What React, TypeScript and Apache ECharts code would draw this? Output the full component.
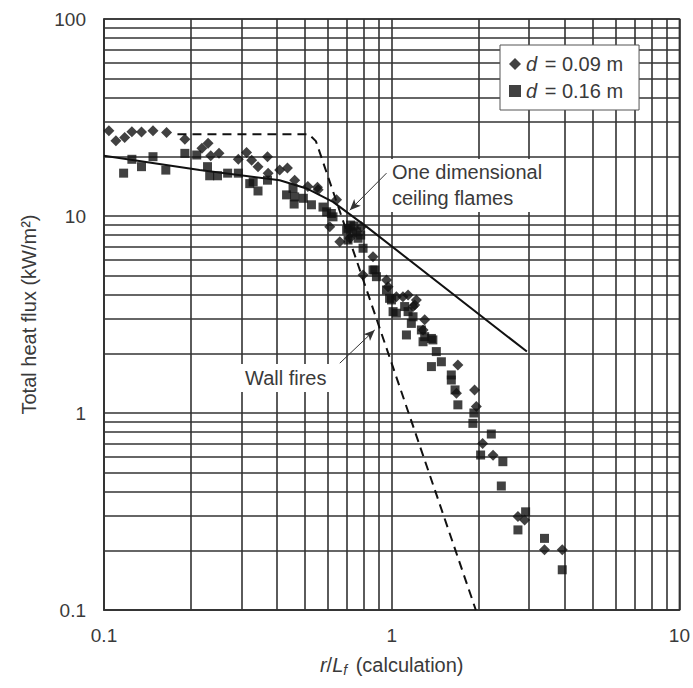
import React, { useEffect, useRef } from 'react';
import * as echarts from 'echarts';

const FONT = '"Liberation Sans", Arial, Helvetica, sans-serif';
const TEXT = '#3a3a3a';
const GRIDC = '#333333';

// minor grid positions on the log axes
const xMinorGrid = [0.2, 0.3, 0.4, 0.5, 0.6, 0.7, 0.8, 0.9, 2, 3, 4, 5, 6, 7, 8, 9];
const yMinorGrid = [0.2, 0.3, 0.4, 0.5, 0.6, 0.7, 0.8, 0.9, 2, 3, 4, 5, 6, 7, 8, 9, 20, 30, 40, 50, 60, 70, 80, 90];

// d = 0.09 m (diamonds)
const d009: number[][] = [
  [0.104, 27.1], [0.110, 24.1], [0.118, 25.0], [0.125, 26.8], [0.135, 26.7], [0.148, 27.1], [0.165, 26.5],
  [0.191, 24.5], [0.219, 22.1], [0.230, 23.4], [0.235, 20.2], [0.251, 20.8], [0.293, 19.4], [0.313, 21.0],
  [0.326, 19.2], [0.343, 17.8], [0.370, 20.0], [0.372, 16.5], [0.408, 17.1], [0.434, 17.5], [0.460, 15.2],
  [0.511, 14.1], [0.552, 14.0], [0.555, 13.6], [0.643, 12.1], [0.609, 8.83], [0.660, 7.41], [0.715, 7.71],
  [0.785, 8.83], [0.795, 5.02], [0.861, 6.21], [0.959, 4.73], [0.971, 4.38], [1.038, 3.89], [1.094, 3.89],
  [1.140, 3.97], [1.186, 3.47], [1.202, 3.53], [1.218, 3.75], [1.285, 2.64], [1.302, 2.97], [1.698, 1.75],
  [1.679, 1.26], [1.941, 1.31], [1.968, 1.08], [2.07, 0.70], [2.25, 0.61], [2.746, 0.298], [2.897, 0.286],
  [3.396, 0.202], [3.915, 0.202],
];

// d = 0.16 m (squares)
const d016: number[][] = [
  [0.117, 16.5], [0.125, 19.4], [0.135, 17.8], [0.148, 20.0], [0.164, 17.1], [0.191, 20.8], [0.210, 20.4],
  [0.229, 17.8], [0.233, 16.0], [0.248, 16.0], [0.269, 16.5], [0.293, 16.5], [0.321, 14.6], [0.330, 14.9],
  [0.343, 13.4], [0.370, 15.2], [0.431, 12.8], [0.454, 13.8], [0.458, 11.5], [0.460, 12.5], [0.493, 12.3],
  [0.526, 11.4], [0.577, 11.1], [0.594, 10.5], [0.617, 10.3], [0.625, 9.9], [0.697, 8.49], [0.705, 8.66],
  [0.705, 7.55], [0.72, 9.0], [0.73, 8.2], [0.74, 8.9], [0.754, 8.32], [0.764, 7.71], [0.78, 8.0],
  [0.795, 6.86], [0.861, 5.32], [0.873, 5.32], [0.885, 4.92], [0.959, 4.21], [0.983, 3.82], [0.998, 3.75],
  [1.011, 3.27], [1.038, 3.21], [1.109, 3.47], [1.125, 2.49], [1.140, 3.27], [1.170, 2.85], [1.186, 3.08],
  [1.268, 2.64], [1.285, 2.30], [1.302, 2.44], [1.374, 2.39], [1.390, 2.35], [1.429, 2.05], [1.374, 1.72],
  [1.488, 1.82], [1.611, 1.56], [1.611, 1.47], [1.66, 1.31], [1.698, 1.10], [1.915, 0.886], [1.93, 1.0],
  [2.037, 0.612], [2.219, 0.782], [2.404, 0.426], [2.434, 0.566], [2.746, 0.255], [2.920, 0.315],
  [3.396, 0.231], [3.915, 0.160],
];

// model curves
const ceilingFlames: number[][] = [[0.1, 20.2], [0.215, 17.1], [0.408, 15.2], [0.506, 13.8], [0.625, 11.8], [0.817, 8.83], [2.95, 2.05]];
const wallFires: number[][] = [[0.18, 26], [0.515, 26], [0.545, 24], [1.96, 0.1]];

// annotation arrows (data coordinates: from, to)
const arrowCeiling = [[0.959, 16.5], [0.715, 10.7]];
const arrowWall = [[0.66, 1.79], [0.873, 2.64]];

export default function App() {
  const ref = useRef<HTMLDivElement>(null);
  useEffect(() => {
    if (!ref.current) return;
    const chart = echarts.init(ref.current, undefined, { renderer: 'svg' });
    const fs = 20;
    const option: any = {
      animation: false,
      backgroundColor: '#fff',
      textStyle: { fontFamily: FONT, color: TEXT },
      grid: { left: 104, right: 12, top: 19, bottom: 78, show: true, borderColor: GRIDC, borderWidth: 1.6 },
      xAxis: {
        type: 'log', logBase: 10, min: 0.1, max: 10,
        axisLine: { show: true, lineStyle: { color: GRIDC, width: 1.6 } },
        axisTick: { show: false },
        splitLine: { show: true, lineStyle: { color: GRIDC, width: 1.6 } },
        axisLabel: { color: TEXT, fontSize: 19, fontFamily: FONT, margin: 16 },
        name: '{i|r}/{i|L}{s|f} (calculation)',
        nameLocation: 'middle', nameGap: 43,
        nameTextStyle: {
          color: TEXT, fontSize: fs, fontFamily: FONT,
          rich: {
            i: { fontStyle: 'italic', fontSize: fs, fontFamily: FONT, color: TEXT },
            s: { fontStyle: 'italic', fontSize: 14, fontFamily: FONT, color: TEXT, padding: [10, 3, 0, 0] },
          },
        },
      },
      yAxis: {
        type: 'log', logBase: 10, min: 0.1, max: 100,
        axisLine: { show: true, lineStyle: { color: GRIDC, width: 1.6 } },
        axisTick: { show: false },
        splitLine: { show: true, lineStyle: { color: GRIDC, width: 1.6 } },
        axisLabel: { color: TEXT, fontSize: 19, fontFamily: FONT, margin: 18 },
        name: 'Total heat flux (kW/m²)',
        nameLocation: 'middle', nameGap: 65, nameRotate: 90,
        nameTextStyle: { color: TEXT, fontSize: fs, fontFamily: FONT },
      },
      legend: {
        left: 500, top: 45, orient: 'vertical',
        backgroundColor: '#fff', borderColor: '#555', borderWidth: 1,
        padding: [9, 16, 9, 9], itemGap: 7, itemWidth: 12, itemHeight: 12,
        textStyle: {
          color: TEXT, fontSize: fs, fontFamily: FONT,
          rich: { i: { fontStyle: 'italic', fontSize: fs, fontFamily: FONT, color: TEXT, padding: [0, 2, 0, 0] } },
        },
        data: [
          { name: 'd = 0.09 m', icon: 'diamond' },
          { name: 'd = 0.16 m', icon: 'rect' },
        ],
        formatter: (n: string) => '{i|d} =\u00a00.' + n.slice(6, 8) + '\u00a0m',
      },
      graphic: [
        { type: 'rect', z: 50, shape: { x: 388, y: 159, width: 170, height: 53 }, style: { fill: '#fff' } },
        { type: 'text', z: 51, left: 392, top: 162, style: { text: 'One dimensional', fontSize: fs, fontFamily: FONT, fill: TEXT } },
        { type: 'text', z: 51, left: 392, top: 188, style: { text: 'ceiling flames', fontSize: fs, fontFamily: FONT, fill: TEXT } },
        { type: 'rect', z: 50, shape: { x: 241, y: 364, width: 98, height: 28 }, style: { fill: '#fff' } },
        { type: 'text', z: 51, left: 245, top: 368, style: { text: 'Wall fires', fontSize: fs, fontFamily: FONT, fill: TEXT } },
      ],
      series: [
        {
          name: 'grid', type: 'line', data: [], silent: true, z: 1,
          markLine: {
            silent: true, symbol: 'none', z: 1, animation: false,
            label: { show: false },
            lineStyle: { color: GRIDC, width: 1.6, type: 'solid' },
            data: [
              ...xMinorGrid.map((v) => ({ xAxis: v })),
              ...yMinorGrid.map((v) => ({ yAxis: v })),
            ],
          },
        },
        {
          name: 'ceiling', type: 'line', data: ceilingFlames, showSymbol: false, symbol: 'none', z: 8,
          lineStyle: { color: '#111', width: 2 },
          markLine: {
            silent: true, z: 9, symbol: ['none', 'arrow'], symbolSize: [7, 11], animation: false,
            label: { show: false },
            lineStyle: { color: '#333', width: 1, type: 'solid' },
            data: [
              [{ coord: arrowCeiling[0] }, { coord: arrowCeiling[1] }],
              [{ coord: arrowWall[0] }, { coord: arrowWall[1] }],
            ],
          },
        },
        {
          name: 'wall', type: 'line', data: wallFires, showSymbol: false, symbol: 'none', z: 8,
          lineStyle: { color: '#111', width: 2, type: [9, 6] },
        },
        {
          name: 'd = 0.09 m', type: 'scatter', data: d009, symbol: 'diamond', symbolSize: 11, z: 10,
          itemStyle: { color: '#111' },
        },
        {
          name: 'd = 0.16 m', type: 'scatter', data: d016, symbol: 'rect', symbolSize: 9, z: 10,
          itemStyle: { color: '#111' },
        },
      ],
    };
    chart.setOption(option);
    return () => chart.dispose();
  }, []);
  return <div ref={ref} style={{ position: 'fixed', left: 0, top: 0, width: 693, height: 688 }} />;
}
